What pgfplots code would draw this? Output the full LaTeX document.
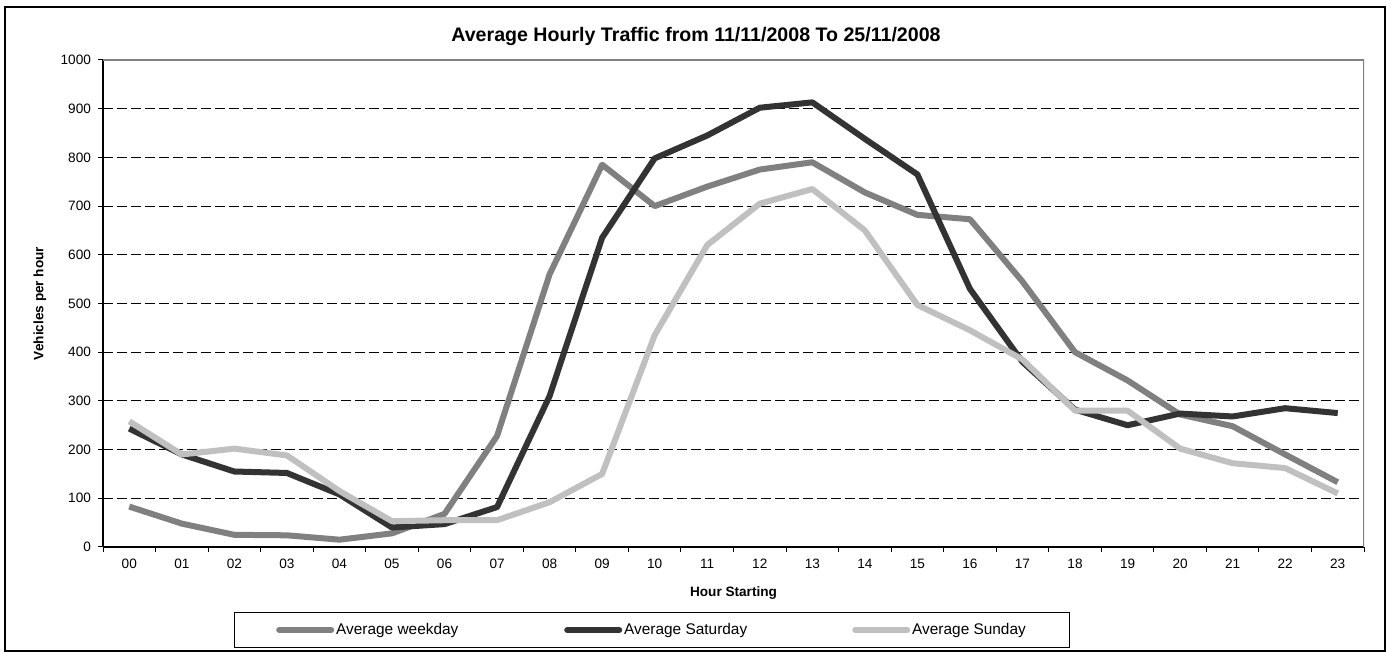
\documentclass[border=0pt]{standalone}
\usepackage{pgfplots}
\pgfplotsset{compat=1.18}
\usepackage{fontspec}
\setmainfont{Liberation Sans}
\definecolor{wk}{HTML}{808080}
\definecolor{sat}{HTML}{333333}
\definecolor{sun}{HTML}{C0C0C0}
\begin{document}
\begin{tikzpicture}
\useasboundingbox (0,0) rectangle (695.5pt,326pt);
\draw[line width=1pt] (2.5pt,0.5pt) rectangle (692.5pt,322.5pt);
\node[font=\bfseries\fontsize{9.8}{11}\selectfont] at (348pt,308pt) {Average Hourly Traffic from 11/11/2008 To 25/11/2008};
\begin{axis}[
  at={(51.5pt,52.5pt)}, anchor=south west,
  scale only axis, width=630.5pt, height=243.5pt,
  xmin=-0.5, xmax=23.5, ymin=0, ymax=1000,
  axis x line*=bottom, axis y line*=left,
  axis line style={-, black, line width=0.8pt},
  xtick={0,...,23},
  xticklabels={00,01,02,03,04,05,06,07,08,09,10,11,12,13,14,15,16,17,18,19,20,21,22,23},
  major x tick style={draw=none},
  minor xtick={-0.5,0.5,...,23.5},
  ytick={0,100,...,1000},
  tick align=outside,
  major tick length=2.5pt, minor tick length=2.5pt,
  tick style={black, line width=0.5pt},
  ymajorgrids,
  major y grid style={black, dash pattern=on 5pt off 2pt, line width=0.4pt},
  /pgf/number format/assume math mode=true,
  ticklabel style={font=\fontsize{6.8}{8}\selectfont},
  yticklabel style={/pgf/number format/1000 sep={}},
  xlabel={Hour Starting},
  ylabel={Vehicles per hour},
  label style={font=\bfseries\fontsize{6.8}{8}\selectfont},
  xlabel style={at={(axis description cs:0.5,-0.095)}, anchor=center},
  ylabel style={at={(axis description cs:-0.05,0.5)}, anchor=center, rotate=0},
  legend columns=3,
  legend style={at={(axis description cs:0.4354,-0.1704)}, anchor=center,
    draw=black, line width=0.5pt, font=\fontsize{7.7}{9}\selectfont,
    inner xsep=21pt, inner ysep=3pt, nodes={inner xsep=1pt, inner ysep=2pt},
    /tikz/every even column/.append style={column sep=0pt}},
  legend cell align=left,
  legend image code/.code={\draw[#1, line cap=round] (0pt,0pt) -- (26pt,0pt);},
]
\addplot[wk, line width=3pt, line join=round] coordinates {
(0,83) (1,48) (2,25) (3,24) (4,15) (5,28) (6,68) (7,228) (8,560) (9,785) (10,700) (11,740)
(12,775) (13,790) (14,728) (15,682) (16,673) (17,545) (18,400) (19,342) (20,272) (21,248) (22,190) (23,133)};
\addlegendentry{\makebox[113pt][l]{Average weekday}}
\addplot[sat, line width=3pt, line join=round] coordinates {
(0,243) (1,190) (2,155) (3,152) (4,108) (5,40) (6,47) (7,82) (8,310) (9,635) (10,798) (11,845)
(12,902) (13,913) (14,838) (15,765) (16,530) (17,380) (18,282) (19,250) (20,274) (21,268) (22,285) (23,275)};
\addlegendentry{\makebox[113pt][l]{Average Saturday}}
\addplot[sun, line width=3pt, line join=round] coordinates {
(0,258) (1,190) (2,202) (3,188) (4,115) (5,53) (6,55) (7,55) (8,92) (9,150) (10,435) (11,620)
(12,705) (13,735) (14,650) (15,497) (16,445) (17,385) (18,280) (19,280) (20,202) (21,172) (22,162) (23,110)};
\addlegendentry{Average Sunday}
\draw[gray, line width=0.8pt] (rel axis cs:0,1) -- (rel axis cs:1,1) -- (rel axis cs:1,0);
\end{axis}
\end{tikzpicture}
\end{document}
